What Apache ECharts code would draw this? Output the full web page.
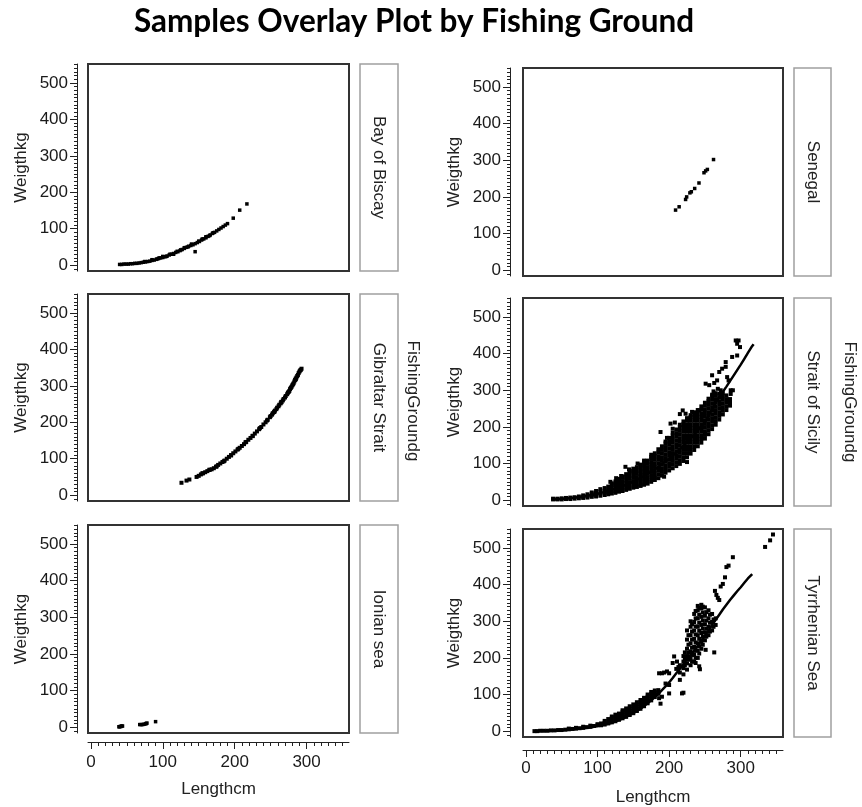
<!DOCTYPE html>
<html><head><meta charset="utf-8">
<script src="https://cdn.jsdelivr.net/npm/echarts@6/dist/echarts.min.js"></script>
<style>html,body{margin:0;padding:0;background:#fff}#c{width:862px;height:807px}</style>
</head><body><div id="c"></div>
<script>
const chartTitle = 'Samples Overlay Plot by Fishing Ground';
const groundNames = ['Bay of Biscay', 'Gibraltar Strait', 'Ionian sea', 'Senegal', 'Strait of Sicily', 'Tyrrhenian Sea'];
const xTicks = [0, 100, 200, 300];
const yTicks = [0, 100, 200, 300, 400, 500];
const xName = 'Lengthcm', yName = 'Weigthkg', facetName = 'FishingGroundg';

const biscay = [[40,2],[43,2],[46,3],[49,3],[52,3],[55,4],[58,4],[61,5],[64,5],[67,6],[70,7],[73,8],[76,9],[79,10],[82,11],[85,13],[88,14],[91,16],[94,18],[97,20],[100,21],[103,23],[106,25],[109,28],[112,30],[115,32],[118,35],[121,37],[124,40],[127,43],[130,46],[133,49],[136,52],[139,54],[142,56],[145,59],[148,62],[151,65],[154,69],[157,72],[160,75],[163,79],[166,83],[169,87],[172,90],[175,94],[178,98],[181,102],[184,106],[187,110],[190,114],[198,129],[207,151],[217,168],[145,37],[100,24],[110,30],[120,38],[130,48],[140,58],[150,66],[160,78],[170,89],[75,10],[85,15],[95,20],[115,30],[125,42],[135,50],[155,72],[165,81],[92,17],[105,24]];

const gibraltar = [[126,34],[133,40],[137,43],[147,50],[150,53],[153,57],[156,60],[159,63],[162,66],[165,69],[168,71],[171,74],[174,78],[177,83],[180,87],[183,91],[186,95],[189,100],[192,105],[195,110],[198,115],[201,120],[204,125],[207,130],[210,135],[213,140],[216,146],[219,152],[222,157],[225,163],[228,169],[231,175],[234,181],[237,187],[240,194],[243,200],[246,207],[249,214],[252,221],[255,228],[258,236],[261,244],[264,252],[267,260],[270,268],[273,277],[276,286],[279,297],[282,307],[285,318],[288,330],[291,342],[293,347],[155,60],[165,70],[175,79],[185,93],[195,109],[205,127],[215,145],[225,162],[235,184],[245,205],[255,229],[265,255],[275,283],[285,320],
 [250,217],[253,225],[256,232],[259,240],[262,248],[265,256],[268,264],[271,272],[274,281],[277,291],[280,301],[283,312],[286,323],[289,335],[292,344],[290,339],[287,327],[284,316],[281,304],[278,294]];

const ionian = [[39,1],[40,1],[41,2],[42,2],[43,3],[44,3],[68,7],[70,7],[72,7],[74,8],[76,9],[77,10],[78,11],[90,15]];

const senegal = [[209,164],[214,173],[223,193],[224.5,200],[229,211],[231,214],[235.7,223],[241.7,238],[248.7,266],[251,271],[253.4,275],[262,302]];

// Strait of Sicily: dense cloud read column by column (x, list of y)
const sicilyCols = [
 [38,[2,4]],[44,[2,4]],[50,[2,5]],[56,[3,6]],[62,[3,7]],[68,[4,8]],[74,[5,10]],[80,[6,9,13]],[86,[7,11,16]],
 [92,[9,13,18,21]],[98,[10,15,20,25]],[104,[12,18,24,30]],[110,[14,20,26,33]],[115,[16,23,30,37]],
 [120,[18,25,33,41,46]],[125,[20,28,36,44,51]],[130,[23,31,39,47,55,58]],[135,[25,34,43,52,61,65]],
 [140,[28,37,46,55,64,71]],[145,[31,40,49,58,67,76,80]],[150,[34,43,52,61,70,79,86]],[155,[36,45,54,63,72,81,90]],
 [160,[39,48,57,66,75,84,93,97]],[165,[42,51,60,69,78,87,96,103]],[170,[45,54,63,72,81,90,99,108]],
 [175,[50,59,68,77,86,95,104,113,118]],[180,[55,64,73,82,91,100,110,120,128]],[185,[60,70,80,90,100,110,120,130,139]],
 [190,[67,77,87,97,107,117,127,137,147]],[195,[75,85,95,105,115,125,135,145,155,160]],
 [200,[81,91,101,111,121,131,141,151,161,170]],[205,[87,97,107,117,127,137,147,157,167,177,184]],
 [210,[93,103,113,123,133,143,153,163,173,183,193]],[215,[99,109,119,129,139,149,159,169,179,189,199,206]],
 [220,[107,117,127,137,147,157,167,177,187,197,207,215]],[225,[117,127,137,147,157,167,177,187,197,207,217,224]],
 [230,[127,137,147,157,167,177,187,197,207,217,227,232]],[235,[137,147,157,167,177,187,197,207,217,227,237,240]],
 [240,[147,157,167,177,187,197,207,217,227,237,246]],[245,[157,167,177,187,197,207,217,227,237,247,256]],
 [250,[168,178,188,198,208,218,228,238,248,258,266]],[255,[180,190,200,210,220,230,240,250,260,270,277]],
 [260,[194,204,214,224,234,244,254,264,274,284,288]],[265,[206,216,226,236,246,256,266,276,286,292]],
 [270,[220,230,240,250,260,270,280,290]],[275,[234,244,254,264,274,284,292]],[280,[246,256,266,276,286]],[285,[258,266,276]]
];
const sicilyOut = [[139,91],[156,100],[144,84],[118,50],[126,60],[133,66],[165,108],[175,124],[188,186],[202,209],[197,170],[205,195],[223,236],[228,218],[232,241],[237,238],[242,245],[246,232],[219,245],[251,318],[256,314],[263,320],[267,327],[260,341],[270,350],[274,359],[279,364],[281,336],[283,327],[279,377],[288,391],[295,395],[286,300],[293,436],[295,427],[297,436],[299,418],[193,64],[225,104],[250,182],[286,290],[289,300],[180,60],[160,40],[215,235],[208,212],[262,297],[268,304],[272,300]];
const sicilyFit = [[40,2],[60,5],[80,10],[100,17],[120,28],[140,42],[160,60],[180,84],[200,113],[220,148],[240,190],[250,214],[260,248],[265,266],[270,282],[275,296],[280,310],[285,325],[290,340],[295,355],[300,370],[305,386],[310,402],[315,418],[318,426]];

// Tyrrhenian Sea
const tyrrCols = [
 [105,[16,21]],[110,[18,23,28]],[115,[21,27,33]],[120,[24,30,36,40]],[125,[27,33,39,45]],[130,[31,37,43,48]],
 [135,[35,41,47,53,57]],[140,[39,45,51,57,62]],[145,[44,50,56,62,68]],[150,[49,55,61,67,73]],
 [155,[55,61,67,73,79]],[160,[61,67,73,79,85]],[165,[68,74,80,86,91]],[170,[76,82,88,94,100]],
 [175,[84,90,96,102,107]],[180,[93,99,105,111]],[185,[102,107,112]],
 [215,[140,160,180]],[220,[155,172,190,205]],[225,[168,185,205,225,250,275]],[230,[180,198,218,240,262,285,300]],
 [235,[190,210,230,252,275,298,320]],[240,[200,220,240,262,285,308,330,342]],[245,[225,245,268,290,312,335,345]],
 [250,[248,270,292,315,338]],[255,[262,285,308,330]],[260,[275,298,320]],[265,[290,308]],
 [222,[180,198,215]],[227,[195,214,236,262]],[232,[190,208,228,250,272,292]],[237,[200,220,242,264,286,308,328]],
 [242,[212,232,252,274,296,318,336]],[247,[236,258,280,302,324,340]],[252,[258,280,302,325]],[257,[272,296,318]],[262,[285,305]]
];
const tyrrOut = [[12,0],[16,0],[20,1],[25,1],[30,1],[35,2],[40,2],[45,3],[50,3],[55,4],[60,5],[65,6],[70,7],[75,8],[80,9],[85,11],[90,12],[95,14],[100,16],[60,7],[70,9],[80,12],[90,15],[100,19],
 [186,158],[190,158],[193,160],[197,163],[200,158],[205,186],[207,204],[211,190],[200,126],[190,94],[186,90],[188,75],[200,103],[218,103],[195,130],[210,170],[213,175],
 [264,383],[266,372],[268,364],[270,358],[272,395],[275,402],[278,420],[280,448],[283,452],[289,475],[334,503],[341,521],[345,537],[263,215],[243,169],[220,105],[242,177],[237,186],[251,222]];
const tyrrFit = [[10,0],[20,1],[30,1],[40,2],[50,3],[60,4],[70,6],[80,8],[90,10],[100,14],[110,18],[120,23],[130,30],[140,39],[150,49],[160,61],[170,76],[180,93],[185,102],[190,112],[195,122],[200,133],[205,145],[210,158],[215,170],[220,183],[225,196],[230,208],[235,220],[240,233],[245,247],[250,261],[255,275],[260,290],[265,304],[270,318],[275,332],[280,345],[285,358],[290,370],[295,382],[300,393],[305,405],[310,417],[316,429]];

const flat = cols => cols.flatMap(([x, ys]) => ys.map(y => [x, y]));
const sicily = flat(sicilyCols).concat(sicilyOut);
const tyrrhenian = flat(tyrrCols).concat(tyrrOut);

const FONT = '"Liberation Sans", Arial, sans-serif';
const grids = [
  {left: 88, top: 64, width: 261, height: 207},
  {left: 88, top: 294, width: 261, height: 207},
  {left: 88, top: 525, width: 261, height: 208},
  {left: 523, top: 68, width: 260, height: 208},
  {left: 523, top: 298, width: 260, height: 208},
  {left: 523, top: 529, width: 260, height: 208}
].map(g => Object.assign({show: true, borderColor: '#333', borderWidth: 2, backgroundColor: 'transparent'}, g));

function mkX(i) {
  const shown = (i === 2 || i === 5);
  const right = i >= 3;
  return {type: 'value', gridIndex: i, min: -4, max: 359, splitNumber: 4, minInterval: 100, maxInterval: 100,
    show: shown, position: 'bottom', offset: right ? 13 : 9,
    name: xName, nameLocation: 'middle', nameGap: 39, nameTextStyle: {fontSize: 17, color: '#222', fontFamily: FONT},
    axisLine: {show: true, onZero: false, lineStyle: {color: '#222', width: 1}},
    axisTick: {show: true, length: 7, lineStyle: {color: '#222'}, customValues: xTicks},
    minorTick: {show: true, splitNumber: 10, length: 4, lineStyle: {color: '#222'}},
    axisLabel: {fontSize: 17, color: '#1a1a1a', margin: right ? 10 : 12, fontFamily: FONT, customValues: xTicks},
    splitLine: {show: false}};
}
function mkY(i) {
  const right = i >= 3;
  return {type: 'value', gridIndex: i, min: -16, max: 552, splitNumber: 5, minInterval: 100, maxInterval: 100,
    position: 'left', offset: right ? 13 : 11,
    name: yName, nameLocation: 'middle', nameGap: 47, nameRotate: 90, nameTextStyle: {fontSize: 17, color: '#222', fontFamily: FONT},
    axisLine: {show: true, onZero: false, lineStyle: {color: '#222', width: 1}},
    axisTick: {show: true, length: 7, lineStyle: {color: '#222'}, customValues: yTicks},
    minorTick: {show: true, splitNumber: 10, length: 3, lineStyle: {color: '#222'}},
    axisLabel: {fontSize: 17, color: '#1a1a1a', margin: 9, fontFamily: FONT, customValues: yTicks},
    splitLine: {show: false}};
}

const panelData = [biscay, gibraltar, ionian, senegal, sicily, tyrrhenian];
const series = panelData.map((d, i) => ({
  type: 'scatter', xAxisIndex: i, yAxisIndex: i, data: d, symbol: 'rect',
  symbolSize: (i === 4 || i === 5) ? 4 : (i === 1 ? 4 : 3.5), itemStyle: {color: '#000', opacity: 1}, silent: true
}));
series.push({type: 'line', xAxisIndex: 4, yAxisIndex: 4, data: sicilyFit, showSymbol: false, lineStyle: {color: '#000', width: 2.5}, silent: true});
series.push({type: 'line', xAxisIndex: 5, yAxisIndex: 5, data: tyrrFit, showSymbol: false, lineStyle: {color: '#000', width: 2.5}, silent: true});

const graphic = [];
graphic.push({type: 'text', x: 414, y: 22, style: {text: chartTitle, font: 'bold 31.5px Lato, "Open Sans", sans-serif', fill: '#000', textAlign: 'center', textVerticalAlign: 'middle'}});
grids.forEach((g, i) => {
  const right = i >= 3;
  const sx = right ? 794 : 360, sw = right ? 37 : 38;
  graphic.push({type: 'rect', shape: {x: sx, y: g.top, width: sw, height: g.height}, style: {fill: '#fff', stroke: '#a0a0a0', lineWidth: 1.5}});
  graphic.push({type: 'text', x: sx + sw / 2, y: g.top + g.height / 2, rotation: -Math.PI / 2,
    style: {text: groundNames[i], font: '17px ' + FONT, fill: '#222', textAlign: 'center', textVerticalAlign: 'middle'}});
});
graphic.push({type: 'text', x: 413, y: 401, rotation: -Math.PI / 2, style: {text: facetName, font: '17px ' + FONT, fill: '#222', textAlign: 'center', textVerticalAlign: 'middle'}});
graphic.push({type: 'text', x: 850, y: 402, rotation: -Math.PI / 2, style: {text: facetName, font: '17px ' + FONT, fill: '#222', textAlign: 'center', textVerticalAlign: 'middle'}});

const chart = echarts.init(document.getElementById('c'), null, {renderer: 'canvas'});
chart.setOption({
  animation: false,
  backgroundColor: '#fff',
  grid: grids,
  xAxis: grids.map((g, i) => mkX(i)),
  yAxis: grids.map((g, i) => mkY(i)),
  series,
  graphic
});
</script></body></html>
